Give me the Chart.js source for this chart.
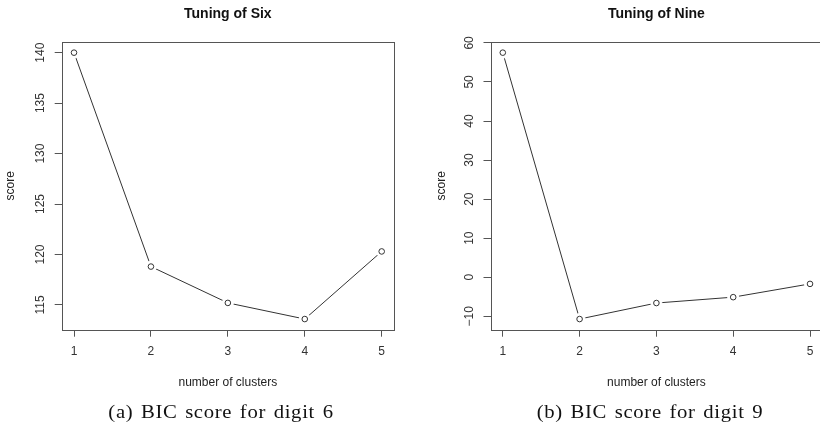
<!DOCTYPE html>
<html><head><meta charset="utf-8">
<script src="https://cdn.jsdelivr.net/npm/chart.js@4/dist/chart.umd.min.js"></script>
<style>
html,body{margin:0;padding:0;background:#fff;overflow:hidden;width:820px;height:426px;}
#wrap{position:relative;width:820px;height:426px;overflow:hidden;background:#fff;}
canvas{position:absolute;top:0;}
.cap{position:absolute;top:400px;font-family:"Liberation Serif","Times New Roman",serif;font-size:18px;letter-spacing:0.6px;word-spacing:1.5px;color:#111;white-space:nowrap;transform:translateX(-50%) scaleX(1.15);line-height:24px;}
</style></head><body>
<div id="wrap">
<canvas id="c1" width="410" height="426" style="left:0;width:410px;height:426px"></canvas>
<canvas id="c2" width="420" height="426" style="left:410px;width:420px;height:426px"></canvas>
<div class="cap" style="left:221px">(a) BIC score for digit 6</div>
<div class="cap" style="left:650px">(b) BIC score for digit 9</div>
</div>
<script>
// ---- data ----
const clusters = [1, 2, 3, 4, 5];
const xTickLabels = ['1', '2', '3', '4', '5'];
const sixScores = [140.0, 118.8, 115.2, 113.6, 120.3];
const nineScores = [57.5, -10.7, -6.6, -5.1, -1.7];
const sixYTicks = [115, 120, 125, 130, 135, 140];
const nineYTicks = [-10, 0, 10, 20, 30, 40, 50, 60];
const chartTitles = ['Tuning of Six', 'Tuning of Nine'];
const xAxisTitle = 'number of clusters';
const yAxisTitle = 'score';

// ---- helpers ----
const SANS = '"Liberation Sans", Arial, Helvetica, sans-serif';
Chart.defaults.font.family = SANS;
function rRange(arr) { // R's default 4% axis extension
  const lo = Math.min(...arr), hi = Math.max(...arr), d = (hi - lo) * 0.04;
  return [lo - d, hi + d];
}
const boxPlugin = {
  id: 'rbox',
  beforeDatasetsDraw(chart) {
    const a = chart.chartArea, ctx = chart.ctx;
    const l = Math.round(a.left), t = Math.round(a.top), r = Math.round(a.right), b = Math.round(a.bottom);
    ctx.save();
    ctx.strokeStyle = '#555';
    ctx.lineWidth = 1;
    ctx.strokeRect(l + 0.5, t + 0.5, r - l, b - t);
    ctx.restore();
  }
};
function fmt(v) { return v < 0 ? '\u2212' + Math.abs(v) : String(v); }

function makeChart(id, title, values, yTicks, g) {
  const pts = clusters.map((c, i) => ({ x: c, y: values[i] }));
  const [xmin, xmax] = rRange(clusters);
  const [ymin, ymax] = rRange(values);
  const step = yTicks[1] - yTicks[0];
  return new Chart(document.getElementById(id), {
    type: 'scatter',
    data: {
      datasets: [
        { data: pts, showLine: true, borderColor: '#333', borderWidth: 1,
          pointRadius: 5.5, pointBackgroundColor: '#fff', pointBorderColor: '#fff', pointBorderWidth: 1, order: 2 },
        { data: pts, showLine: false, pointRadius: 2.8, pointBackgroundColor: 'rgba(0,0,0,0)',
          pointBorderColor: '#333', pointBorderWidth: 1, order: 1 }
      ]
    },
    options: {
      responsive: false, animation: false, events: [],
      layout: { padding: { left: 0, right: g.padRight, top: 0, bottom: 25 } },
      plugins: {
        legend: { display: false }, tooltip: { enabled: false },
        title: { display: true, text: title, fullSize: false, color: '#111',
          font: { family: SANS, size: 14, weight: 'bold' }, padding: { top: 5.5, bottom: 19.7 } }
      },
      scales: {
        x: {
          type: 'linear', min: xmin, max: xmax,
          ticks: { stepSize: 1, includeBounds: false, autoSkip: false, maxRotation: 0, padding: 8,
            color: '#333', font: { size: 12 },
            callback: (v) => xTickLabels[clusters.indexOf(v)] ?? '' },
          grid: { drawOnChartArea: false, drawTicks: true, tickLength: 7, color: '#555' },
          border: { display: false },
          title: { display: true, text: xAxisTitle, color: '#222', font: { size: 12 }, padding: { top: 0, bottom: 11.3 } },
          afterFit: (s) => { s.height = 71.3; }
        },
        y: {
          type: 'linear', min: ymin, max: ymax,
          ticks: { stepSize: step, includeBounds: false, minRotation: 90, maxRotation: 90, crossAlign: 'center',
            padding: 4, color: '#333', font: { size: 12 }, callback: (v) => fmt(v) },
          grid: { drawOnChartArea: false, drawTicks: true, tickLength: 7, color: '#555' },
          border: { display: false },
          title: { display: true, text: yAxisTitle, color: '#222', font: { size: 12 }, padding: { top: g.yTitlePad, bottom: 0 } },
          afterFit: (s) => { s.width = g.yWidth; }
        }
      }
    },
    plugins: [boxPlugin]
  });
}

makeChart('c1', chartTitles[0], sixScores, sixYTicks, { padRight: 16, yWidth: 61.7, yTitlePad: 3.8 });
makeChart('c2', chartTitles[1], nineScores, nineYTicks, { padRight: 7.7, yWidth: 80.5, yTitlePad: 24.5 });
</script>
</body></html>
